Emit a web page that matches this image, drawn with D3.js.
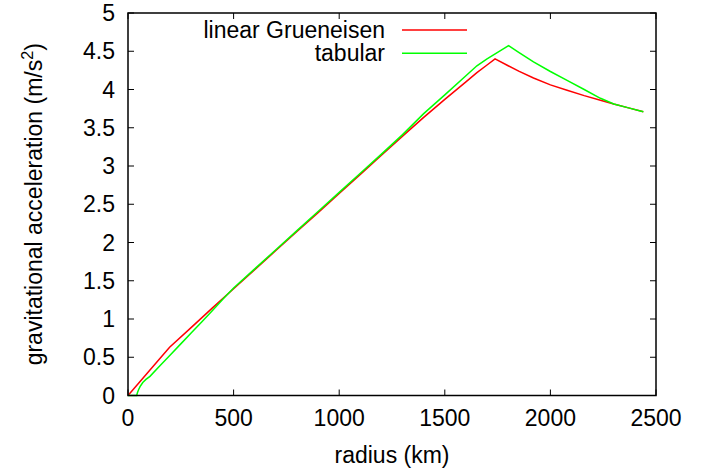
<!DOCTYPE html>
<html><head><meta charset="utf-8">
<script src="https://cdn.jsdelivr.net/npm/d3@7/dist/d3.min.js"></script>
<style>body{margin:0;background:#fff}svg{display:block}text{font-family:"Liberation Sans",Arial,sans-serif;fill:#000}</style>
</head><body>
<svg id="c" width="714" height="476"></svg>
<script>
const xTicks = [0, 500, 1000, 1500, 2000, 2500];
const yTicks = [0, 0.5, 1, 1.5, 2, 2.5, 3, 3.5, 4, 4.5, 5];
const seriesNames = ["linear Grueneisen", "tabular"];
const redR = [0, 50, 100, 150, 197, 300, 400, 500, 600, 700, 800, 900, 1000, 1100, 1200, 1300, 1400, 1500, 1600, 1652, 1700, 1738, 1800, 1850, 1920, 2000, 2079, 2160, 2237, 2300, 2370, 2440];
const redG = [0, 0.16, 0.32, 0.48, 0.632, 0.89, 1.145, 1.395, 1.645, 1.895, 2.145, 2.39, 2.64, 2.89, 3.14, 3.39, 3.635, 3.87, 4.10, 4.22, 4.32, 4.40, 4.31, 4.24, 4.15, 4.06, 3.99, 3.92, 3.86, 3.81, 3.76, 3.71];
const greenR = [0, 41, 45, 50, 57, 70, 85, 104, 150, 200, 250, 300, 350, 400, 450, 500, 600, 700, 800, 900, 1000, 1100, 1200, 1300, 1400, 1500, 1600, 1652, 1700, 1750, 1802, 1850, 1920, 2000, 2079, 2160, 2237, 2300, 2370, 2440];
const greenG = [0, 0, 0.04, 0.075, 0.115, 0.17, 0.21, 0.25, 0.385, 0.53, 0.675, 0.82, 0.965, 1.11, 1.26, 1.405, 1.655, 1.905, 2.155, 2.405, 2.655, 2.905, 3.155, 3.41, 3.685, 3.93, 4.18, 4.31, 4.40, 4.485, 4.573, 4.486, 4.36, 4.235, 4.12, 4.00, 3.885, 3.81, 3.76, 3.71];

const svg = d3.select("#c");
const L = 128, R = 656, T = 13, B = 395.5;
const x = d3.scaleLinear().domain([0, 2500]).range([L, R]);
const y = d3.scaleLinear().domain([0, 5]).range([B, T]);
const fs = 23;

// ticks (inward, mirrored)
const tl = 6;
const g = svg.append("g").attr("stroke", "#000").attr("stroke-width", 1);
xTicks.forEach(v => {
  g.append("line").attr("x1", x(v)).attr("x2", x(v)).attr("y1", B).attr("y2", B - tl);
  g.append("line").attr("x1", x(v)).attr("x2", x(v)).attr("y1", T).attr("y2", T + tl);
});
yTicks.forEach(v => {
  g.append("line").attr("x1", L).attr("x2", L + tl).attr("y1", y(v)).attr("y2", y(v));
  g.append("line").attr("x1", R).attr("x2", R - tl).attr("y1", y(v)).attr("y2", y(v));
});
svg.selectAll(".xl").data(xTicks).enter().append("text")
  .attr("x", d => x(d)).attr("y", B + 30).attr("text-anchor", "middle")
  .attr("font-size", fs).text(d => d);
svg.selectAll(".yl").data(yTicks).enter().append("text")
  .attr("x", L - 13).attr("y", d => y(d) + 8).attr("text-anchor", "end")
  .attr("font-size", fs).text(d => d);

const line = d3.line().x(d => x(d[0])).y(d => y(d[1]));
const redData = redR.map((r, i) => [r, redG[i]]);
const greenData = greenR.map((r, i) => [r, greenG[i]]);
svg.append("path").attr("d", line(redData)).attr("fill", "none").attr("stroke", "#ff0000").attr("stroke-width", 1.5);
svg.append("path").attr("d", line(greenData)).attr("fill", "none").attr("stroke", "#00ff00").attr("stroke-width", 1.5);

// border
svg.append("rect").attr("x", L).attr("y", T).attr("width", R - L).attr("height", B - T)
  .attr("fill", "none").attr("stroke", "#000").attr("stroke-width", 1.5);

// legend
const colors = ["#ff0000", "#00ff00"];
seriesNames.forEach((n, i) => {
  const yy = 30 + i * 23.3;
  svg.append("text").attr("x", 385).attr("y", yy + 7.5).attr("text-anchor", "end").attr("font-size", fs).text(n);
  svg.append("line").attr("x1", 402).attr("x2", 467).attr("y1", yy).attr("y2", yy)
    .attr("stroke", colors[i]).attr("stroke-width", 1.5);
});

// axis labels
svg.append("text").attr("x", (L + R) / 2).attr("y", 463).attr("text-anchor", "middle").attr("font-size", fs).text("radius (km)");
const yl = svg.append("text").attr("transform", `translate(42,${(T + B) / 2}) rotate(-90)`)
  .attr("text-anchor", "middle").attr("font-size", fs);
yl.append("tspan").text("gravitational acceleration (m/s");
yl.append("tspan").attr("font-size", fs * 0.7).attr("dy", -9).text("2");
yl.append("tspan").attr("dy", 9).text(")");
</script>
</body></html>
